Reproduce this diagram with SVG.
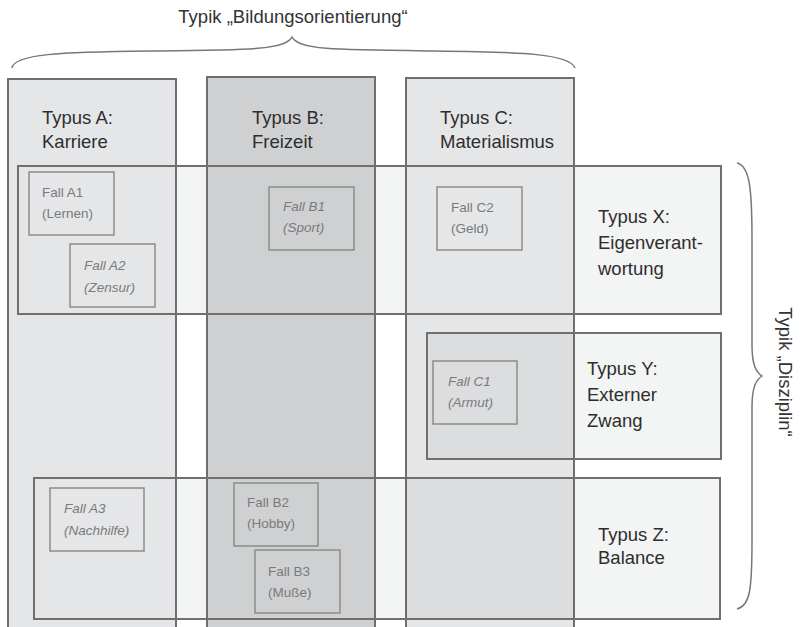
<svg xmlns="http://www.w3.org/2000/svg" width="807" height="627" viewBox="0 0 807 627">
<style>
.colA{fill:#e5e6e8}
.colB{fill:#cfd0d2}
.rowfill{fill:#f3f4f4}
.line{fill:none;stroke:#6f6f6f;stroke-width:2}
.case{fill:none;stroke:#8c8c8c;stroke-width:1.5}
.h{font-family:"Liberation Sans",Arial,sans-serif;font-size:18.5px;fill:#2e2e2e}
.c{font-family:"Liberation Sans",Arial,sans-serif;font-size:13.5px;fill:#7a7a7a}
.i{font-style:italic}
.t{font-family:"Liberation Sans",Arial,sans-serif;font-size:18.5px;fill:#333}
.brace{fill:none;stroke:#777;stroke-width:1.5}
</style>
<rect width="807" height="627" fill="#fff"/>
<g id="row-fills">
<rect class="rowfill" x="18" y="166" width="703" height="148"/>
<rect class="rowfill" x="427" y="333" width="294" height="126"/>
<rect class="rowfill" x="34" y="478" width="686" height="141"/>
</g>
<g id="typus-a"><rect class="colA" x="8" y="79" width="168" height="560"/><rect class="line" x="8" y="79" width="168" height="560"/><text class="h" x="42" y="124">Typus A:</text><text class="h" x="42" y="148">Karriere</text></g>
<g id="typus-b"><rect class="colB" x="207" y="77" width="168" height="560"/><rect class="line" x="207" y="77" width="168" height="560"/><text class="h" x="252" y="124">Typus B:</text><text class="h" x="252" y="148">Freizeit</text></g>
<g id="typus-c"><rect class="colA" x="406" y="78" width="168" height="560"/><rect class="line" x="406" y="78" width="168" height="560"/><text class="h" x="440" y="124">Typus C:</text><text class="h" x="440" y="148">Materialismus</text></g>
<g id="typus-x"><rect class="line" x="18" y="166" width="703" height="148"/><text class="h" x="598" y="223">Typus X:</text><text class="h" x="598" y="249">Eigenverant-</text><text class="h" x="598" y="275">wortung</text></g>
<g id="typus-y"><rect x="427" y="333" width="147" height="126" fill="#000" fill-opacity="0.035"/><rect class="line" x="427" y="333" width="294" height="126"/><text class="h" x="587" y="375">Typus Y:</text><text class="h" x="587" y="401">Externer</text><text class="h" x="587" y="427">Zwang</text></g>
<g id="typus-z"><rect x="406" y="478" width="168" height="141" fill="#000" fill-opacity="0.035"/><rect class="line" x="34" y="478" width="686" height="141"/><text class="h" x="598" y="541">Typus Z:</text><text class="h" x="598" y="564">Balance</text></g>
<g id="fall-a1"><rect class="case" x="29" y="172" width="85" height="63"/><text class="c" x="42" y="197">Fall A1</text><text class="c" x="42" y="218">(Lernen)</text></g>
<g id="fall-a2"><rect class="case" x="70" y="244" width="85" height="63"/><text class="c i" x="84" y="270">Fall A2</text><text class="c i" x="84" y="292">(Zensur)</text></g>
<g id="fall-b1"><rect class="case" x="269" y="187" width="85" height="63"/><text class="c i" x="283" y="211">Fall B1</text><text class="c i" x="283" y="232">(Sport)</text></g>
<g id="fall-c2"><rect class="case" x="437" y="187" width="85" height="63"/><text class="c" x="451" y="212">Fall C2</text><text class="c" x="451" y="233">(Geld)</text></g>
<g id="fall-c1"><rect class="case" x="433" y="361" width="84" height="63"/><text class="c i" x="448" y="386">Fall C1</text><text class="c i" x="448" y="407">(Armut)</text></g>
<g id="fall-a3"><rect class="case" x="50" y="488" width="94" height="63"/><text class="c i" x="64" y="513">Fall A3</text><text class="c i" x="64" y="535">(Nachhilfe)</text></g>
<g id="fall-b2"><rect class="case" x="234" y="483" width="84" height="63"/><text class="c" x="247" y="507">Fall B2</text><text class="c" x="247" y="528">(Hobby)</text></g>
<g id="fall-b3"><rect class="case" x="255" y="550" width="85" height="63"/><text class="c" x="268" y="576">Fall B3</text><text class="c" x="268" y="597">(Muße)</text></g>
<g id="connectors">
<path class="brace" d="M12,68 C14,54 60,52 150,51 C250,50 285,50 292,37 C299,50 334,50 434,51 C524,52 570,54 575,68"/>
<path class="brace" d="M737,163 C750,166 752,190 752,240 L752,345 C752,365 756,372 762,376 C756,380 752,387 752,407 L752,540 C752,590 750,606 737,609"/>
</g>
<g id="titles">
<text class="t" x="293" y="23" text-anchor="middle">Typik „Bildungsorientierung“</text>
<text class="t" transform="translate(779,372) rotate(90)" text-anchor="middle">Typik „Disziplin“</text>
</g>
</svg>
